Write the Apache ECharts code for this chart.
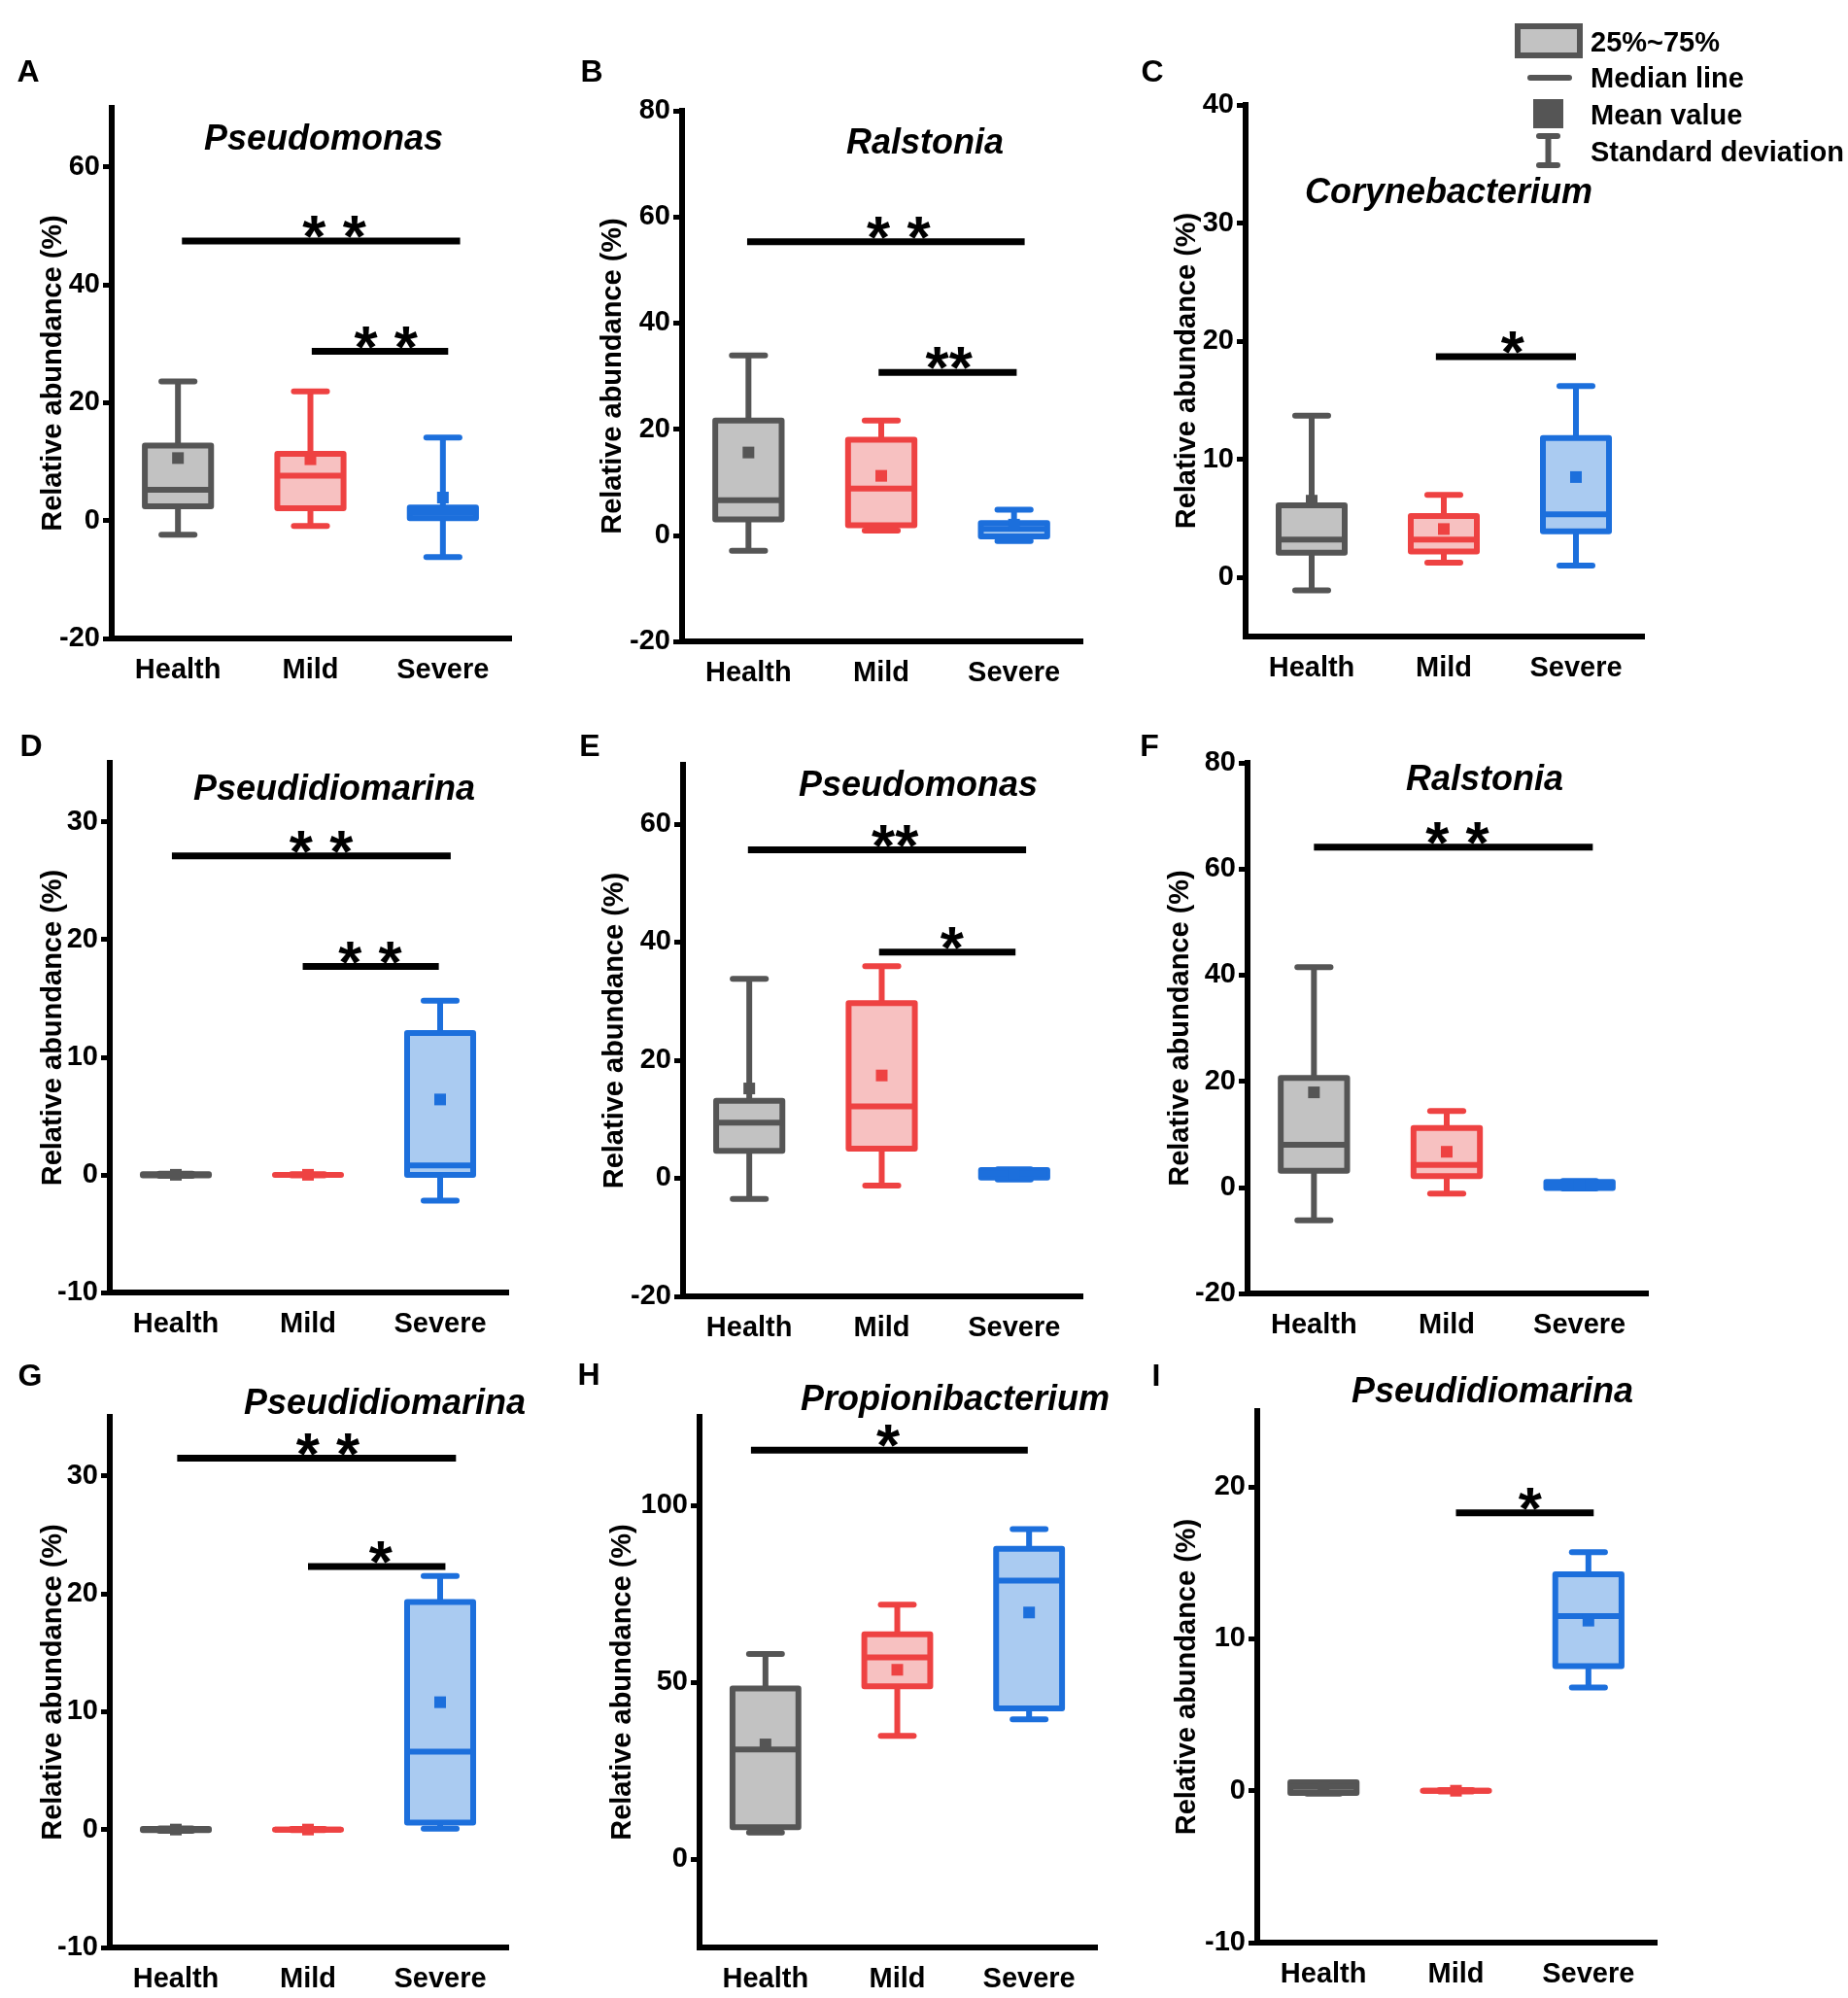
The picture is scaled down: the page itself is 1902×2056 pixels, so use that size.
<!DOCTYPE html>
<html>
<head>
<meta charset="utf-8">
<title>Relative abundance box plots</title>
<script src="https://cdn.jsdelivr.net/npm/echarts@6.0.0/dist/echarts.min.js"></script>
<style>
  html, body { margin: 0; padding: 0; background: #fff; }
  #main { width: 1902px; height: 2056px; }
</style>
</head>
<body>
<div id="main"></div>
<script>
var FONT = '"Liberation Sans", Arial, sans-serif';

// ---- data ----
var groups = ['Health', 'Mild', 'Severe'];
var panelLetters = ['A', 'B', 'C', 'D', 'E', 'F', 'G', 'H', 'I'];
var genusTitles = ['Pseudomonas', 'Ralstonia', 'Corynebacterium',
                   'Pseudidiomarina', 'Pseudomonas', 'Ralstonia',
                   'Pseudidiomarina', 'Propionibacterium', 'Pseudidiomarina'];
var yMin = [-20, -20, -5, -10, -20, -20, -10, -25, -10];
var yMax = [70, 80, 40, 35, 70, 80, 35, 125, 25];
var yTicks = [
  [-20, 0, 20, 40, 60], [-20, 0, 20, 40, 60, 80], [0, 10, 20, 30, 40],
  [-10, 0, 10, 20, 30], [-20, 0, 20, 40, 60], [-20, 0, 20, 40, 60, 80],
  [-10, 0, 10, 20, 30], [0, 50, 100], [-10, 0, 10, 20]
];

// [whisker low, Q1, median, Q3, whisker high, mean] for Health, Mild, Severe
var boxA = [[-2.4, 2.4, 5.2, 12.7, 23.6, 10.6], [-0.9, 2.1, 7.6, 11.3, 21.9, 10.4], [-6.2, 0.4, 1.3, 2.2, 14.1, 3.9]];
var boxB = [[-2.9, 3.0, 6.6, 21.6, 33.9, 15.6], [0.9, 1.9, 8.8, 18.0, 21.6, 11.2], [-1.1, -0.2, 1.2, 2.3, 4.8, 2.0]];
var boxC = [[-1.1, 2.1, 3.2, 6.1, 13.7, 6.5], [1.25, 2.2, 3.2, 5.2, 7.0, 4.1], [1.0, 3.9, 5.35, 11.8, 16.2, 8.5]];
var boxD = [[-0.1, -0.05, 0, 0.05, 0.1, 0], [-0.05, 0, 0, 0, 0.05, 0], [-2.2, 0, 0.8, 12.05, 14.8, 6.4]];
var boxE = [[-3.5, 4.65, 9.4, 13.1, 33.75, 15.2], [-1.25, 5.0, 12.15, 29.65, 35.9, 17.4], [-0.2, 0.1, 0.8, 1.4, 1.5, 0.8]];
var boxF = [[-6.2, 3.1, 8.0, 20.6, 41.5, 17.9], [-1.2, 2.1, 4.2, 11.2, 14.4, 6.7], [-0.2, -0.15, 0.3, 1.0, 1.2, 0.4]];
var boxG = [[-0.1, -0.05, 0, 0.05, 0.1, 0], [-0.05, 0, 0, 0, 0.05, 0], [0.07, 0.6, 6.6, 19.3, 21.5, 10.8]];
var boxH = [[7.5, 9.0, 31.0, 48.2, 58.0, 32.4], [34.8, 48.8, 57.0, 63.5, 71.9, 53.5], [39.5, 42.6, 78.7, 87.7, 93.3, 69.7]];
var boxI = [[-0.2, -0.15, 0.25, 0.55, 0.55, 0.2], [-0.05, 0, 0, 0, 0.05, 0], [6.8, 8.2, 11.5, 14.25, 15.7, 11.2]];

// significance bars: [from group, to group, y value, star position, stars]
var sigA = [[0.03, 2.13, 47.4, 1.18, '* *'], [1.01, 2.04, 28.7, 1.57, '* *']];
var sigB = [[-0.01, 2.08, 55.3, 1.13, '* *'], [0.98, 2.02, 30.7, 1.51, '**']];
var sigC = [[0.94, 2.0, 18.7, 1.52, '*']];
var sigD = [[-0.03, 2.08, 27.1, 1.10, '* *'], [0.96, 1.99, 17.7, 1.47, '* *']];
var sigE = [[-0.01, 2.09, 55.6, 1.10, '**'], [0.98, 2.01, 38.3, 1.53, '*']];
var sigF = [[0.0, 2.1, 64.1, 1.08, '* *']];
var sigG = [[0.01, 2.12, 31.5, 1.15, '* *'], [1.0, 2.04, 22.3, 1.55, '*']];
var sigH = [[-0.11, 1.99, 115.6, 0.93, '*']];
var sigI = [[1.0, 2.04, 18.3, 1.56, '*']];

var boxes = [boxA, boxB, boxC, boxD, boxE, boxF, boxG, boxH, boxI];
var sigs = [sigA, sigB, sigC, sigD, sigE, sigF, sigG, sigH, sigI];

// ---- layout / style ----
var borderColors = ['#555555', '#ee4242', '#1c6fdc'];
var fillColors = ['#c2c2c2', '#f7c1c1', '#aacbf1'];

var grids = [
  { left: 115, top: 111, width: 409, height: 546 },
  { left: 702, top: 114, width: 410, height: 546 },
  { left: 1282, top: 108, width: 408, height: 547 },
  { left: 113, top: 785, width: 408, height: 545 },
  { left: 703, top: 787, width: 409, height: 547 },
  { left: 1284, top: 785, width: 410, height: 546 },
  { left: 113, top: 1458, width: 408, height: 546 },
  { left: 720, top: 1458, width: 407, height: 546 },
  { left: 1294, top: 1452, width: 409, height: 547 }
];
var nameGaps = [46, 57, 46, 44, 56, 55, 44, 65, 58];
var titlePos = [[333, 144], [952, 148], [1491, 199], [344, 813], [945, 809],
                [1528, 803], [396, 1445], [983, 1441], [1536, 1433]];
var letterPos = [[29, 75], [609, 75], [1186, 75], [32, 769], [607, 769],
                 [1183, 769], [31, 1417], [606, 1416], [1190, 1417]];

function renderBox(params, api) {
  var c = api.value(0);
  var lo = api.value(1), q1 = api.value(2), med = api.value(3),
      q3 = api.value(4), hi = api.value(5), mean = api.value(6);
  var band = api.size([1, 0])[0];
  var x = api.coord([c, med])[0];
  var y = function (v) { return api.coord([c, v])[1]; };
  var bw = band * 0.5, cw = band * 0.25;
  var col = borderColors[c];
  function seg(x1, y1, x2, y2, cap) {
    return { type: 'line', shape: { x1: x1, y1: y1, x2: x2, y2: y2 },
             style: { stroke: col, lineWidth: 6, lineCap: cap } };
  }
  return {
    type: 'group',
    children: [
      seg(x, y(lo), x, y(hi), 'butt'),
      seg(x - cw / 2, y(hi), x + cw / 2, y(hi), 'round'),
      seg(x - cw / 2, y(lo), x + cw / 2, y(lo), 'round'),
      { type: 'rect',
        shape: { x: x - bw / 2, y: y(q3), width: bw, height: y(q1) - y(q3) },
        style: { fill: fillColors[c], stroke: col, lineWidth: 6, lineJoin: 'round' } },
      seg(x - bw / 2, y(med), x + bw / 2, y(med), 'butt'),
      { type: 'rect', shape: { x: x - 6, y: y(mean) - 6, width: 12, height: 12 },
        style: { fill: col } }
    ]
  };
}

function makeSigRenderer(list) {
  return function (params, api) {
    var s = list[params.dataIndex];
    var c0 = api.coord([0, s[2]]);
    var band = api.size([1, 0])[0];
    var yb = c0[1];
    return {
      type: 'group',
      children: [
        { type: 'line',
          shape: { x1: c0[0] + s[0] * band, y1: yb, x2: c0[0] + s[1] * band, y2: yb },
          style: { stroke: '#000', lineWidth: 7 } },
        { type: 'text', x: c0[0] + s[3] * band, y: yb - 1,
          style: { text: s[4], fill: '#000', fontSize: 62, fontWeight: 'bold', fontFamily: FONT,
                   align: 'center', verticalAlign: 'middle',
                   textAlign: 'center', textVerticalAlign: 'middle' } }
      ]
    };
  };
}

var xAxes = [], yAxes = [], series = [], graphics = [];
for (var i = 0; i < 9; i++) {
  xAxes.push({
    type: 'category', gridIndex: i, data: groups, boundaryGap: true,
    axisLine: { onZero: false, lineStyle: { color: '#000', width: 6, cap: 'square' } },
    axisTick: { alignWithLabel: true, length: 7, lineStyle: { color: '#000', width: 5 } },
    axisLabel: { color: '#000', fontSize: 29, fontWeight: 'bold', fontFamily: FONT, margin: 18 },
    splitLine: { show: false }
  });
  yAxes.push({
    type: 'value', gridIndex: i, min: yMin[i], max: yMax[i],
    name: 'Relative abundance (%)', nameLocation: 'middle', nameGap: nameGaps[i],
    nameMoveOverlap: false,
    nameTextStyle: { color: '#000', fontSize: 29, fontWeight: 'bold', fontFamily: FONT },
    axisLine: { show: true, lineStyle: { color: '#000', width: 6, cap: 'square' } },
    axisTick: { show: true, length: 9, customValues: yTicks[i], lineStyle: { color: '#000', width: 5 } },
    axisLabel: { customValues: yTicks[i], color: '#000', fontSize: 29, fontWeight: 'bold',
                 fontFamily: FONT, margin: 12 },
    splitLine: { show: false }
  });
  series.push({
    type: 'custom', xAxisIndex: i, yAxisIndex: i, renderItem: renderBox,
    encode: { x: 0, y: [1, 2, 3, 4, 5, 6] },
    data: boxes[i].map(function (b, k) { return [k].concat(b); }),
    clip: false, silent: true
  });
  series.push({
    type: 'custom', xAxisIndex: i, yAxisIndex: i, renderItem: makeSigRenderer(sigs[i]),
    encode: { x: 0, y: 1 },
    data: sigs[i].map(function (s) { return [0, s[2]]; }),
    clip: false, silent: true
  });
  graphics.push({
    type: 'text', x: titlePos[i][0], y: titlePos[i][1],
    style: { text: genusTitles[i], fill: '#000', font: 'italic bold 36px ' + FONT,
             align: 'center', verticalAlign: 'middle', textAlign: 'center', textVerticalAlign: 'middle' }
  });
  graphics.push({
    type: 'text', x: letterPos[i][0], y: letterPos[i][1],
    style: { text: panelLetters[i], fill: '#000', font: 'bold 32px ' + FONT,
             align: 'center', verticalAlign: 'middle', textAlign: 'center', textVerticalAlign: 'middle' }
  });
}

// legend key (top right)
var legendText = ['25%~75%', 'Median line', 'Mean value', 'Standard deviation'];
var legendY = [45, 82, 120, 158];
graphics.push(
  { type: 'rect', shape: { x: 1562, y: 27, width: 64, height: 30 },
    style: { fill: fillColors[0], stroke: borderColors[0], lineWidth: 6 } },
  { type: 'line', shape: { x1: 1575, y1: 80, x2: 1615, y2: 80 },
    style: { stroke: borderColors[0], lineWidth: 6, lineCap: 'round' } },
  { type: 'rect', shape: { x: 1578, y: 102, width: 31, height: 30 },
    style: { fill: borderColors[0] } },
  { type: 'line', shape: { x1: 1593.5, y1: 140, x2: 1593.5, y2: 170 },
    style: { stroke: borderColors[0], lineWidth: 6 } },
  { type: 'line', shape: { x1: 1584, y1: 140, x2: 1603, y2: 140 },
    style: { stroke: borderColors[0], lineWidth: 6, lineCap: 'round' } },
  { type: 'line', shape: { x1: 1584, y1: 170, x2: 1603, y2: 170 },
    style: { stroke: borderColors[0], lineWidth: 6, lineCap: 'round' } }
);
legendText.forEach(function (t, k) {
  graphics.push({
    type: 'text', x: 1637, y: legendY[k],
    style: { text: t, fill: '#000', font: 'bold 29px ' + FONT,
             align: 'left', verticalAlign: 'middle', textAlign: 'left', textVerticalAlign: 'middle' }
  });
});

var chart = echarts.init(document.getElementById('main'));
chart.setOption({
  backgroundColor: '#fff',
  animation: false,
  grid: grids,
  xAxis: xAxes,
  yAxis: yAxes,
  series: series,
  graphic: graphics
});
</script>
</body>
</html>
